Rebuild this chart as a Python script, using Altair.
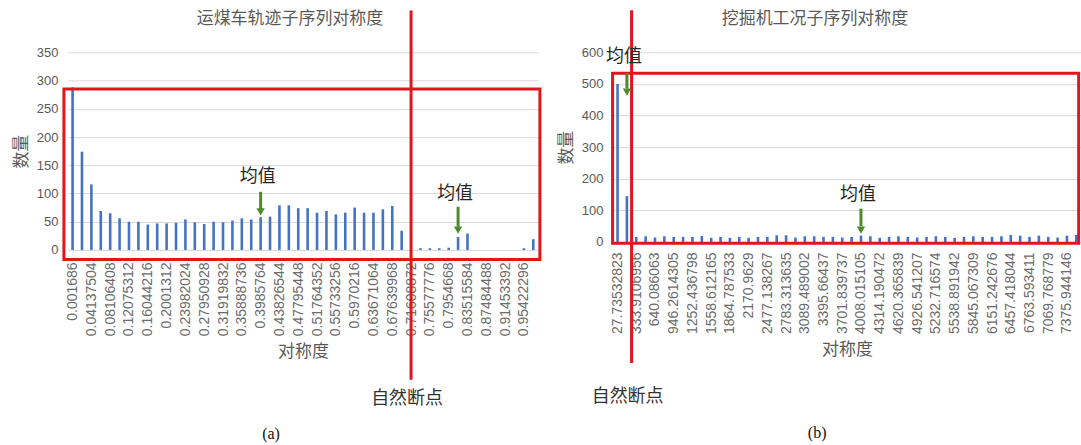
import json

import altair as alt
import pandas as pd

CJK = "Noto Sans CJK SC"
BLUE = "#4472c4"
RED = "#e3141c"
GREEN = "#4e8a2e"
GRAY = "#595959"

# 运煤车轨迹子序列对称度: 50 bins, tick label on every second bin
truck_ticks = ["0.001686", "0.04137504", "0.08106408", "0.12075312", "0.16044216",
               "0.2001312", "0.23982024", "0.27950928", "0.31919832", "0.35888736",
               "0.3985764", "0.43826544", "0.47795448", "0.51764352", "0.55733256",
               "0.5970216", "0.63671064", "0.67639968", "0.71608872", "0.75577776",
               "0.7954668", "0.83515584", "0.87484488", "0.91453392", "0.95422296"]
truck_counts = [288, 174, 116, 69, 65, 56, 50, 50, 45, 47,
                47, 48, 54, 49, 46, 50, 49, 52, 56, 54,
                58, 59, 79, 79, 74, 74, 66, 69, 63, 66,
                75, 66, 66, 72, 78, 34, 0, 3, 3, 3,
                4, 23, 29, 0, 0, 0, 0, 0, 3, 19]

# 挖掘机工况子序列对称度: 50 bins, tick label on every second bin
excavator_ticks = ["27.73532823", "333.9106956", "640.086063", "946.2614305", "1252.436798",
                   "1558.612165", "1864.787533", "2170.9629", "2477.138267", "2783.313635",
                   "3089.489002", "3395.66437", "3701.839737", "4008.015105", "4314.190472",
                   "4620.365839", "4926.541207", "5232.716574", "5538.891942", "5845.067309",
                   "6151.242676", "6457.418044", "6763.593411", "7069.768779", "7375.944146"]
excavator_counts = [500, 145, 16, 18, 14, 18, 16, 16, 16, 19,
                    13, 16, 13, 16, 13, 16, 16, 21, 21, 14,
                    18, 18, 16, 16, 14, 16, 20, 18, 13, 16,
                    18, 16, 14, 16, 18, 16, 13, 16, 18, 16,
                    16, 18, 22, 20, 16, 20, 16, 14, 20, 22]

# annotation anchors, in bin units (x) and count units (y)
truck_frame = {"x0": -0.42, "x1": 50.2, "y0": -17, "y1": 285}
truck_break = {"x": 36.5, "y0": -230, "y1": 424}
truck_means = [  # bin centre, label y, shaft top, shaft bottom, head y
    {"x": 20.5, "ly": 130, "s0": 103, "s1": 72, "hy": 67.5},
    {"x": 41.5, "ly": 99, "s0": 76.5, "s1": 41, "hy": 35},
]
excavator_frame = {"x0": -0.03, "x1": 49.75, "y0": -4, "y1": 534}
excavator_break = {"x": 2.0, "y0": -383, "y1": 733}
excavator_means = [
    {"x": 1.5, "ly": 586, "s0": 535, "s1": 485, "hy": 474},
    {"x": 26.5, "ly": 149, "s0": 105.5, "s1": 49.6, "hy": 37.6},
]


def histogram_panel(counts, ticks, title, title_dx, y_max, y_step, width, height,
                    label_pad, frame, brk, means, break_label_y,
                    caption, caption_x, caption_y, caption_dx):
    n = len(counts)
    bins = pd.DataFrame({"pos": [i + 0.5 for i in range(n)], "count": counts})
    xs = alt.Scale(domain=[0, n], nice=False, zero=False, padding=0)
    ys = alt.Scale(domain=[0, y_max], nice=False, padding=0)

    x_axis = alt.Axis(
        values=[i + 0.5 for i in range(0, n, 2)],
        labelExpr=json.dumps(ticks) + "[floor(datum.value / 2)]",
        labelAngle=-90, labelFont="Liberation Sans", labelFontSize=14,
        labelColor="#6b6b6b", labelPadding=label_pad, labelOverlap=False, labelFlush=False,
        ticks=False, domain=False, grid=False,
        titleFont=CJK, titleFontSize=17, titleFontWeight="normal", titleColor=GRAY,
        titlePadding=8,
    )
    y_axis = alt.Axis(
        values=list(range(0, y_max + 1, y_step)),
        labelFont="Liberation Sans", labelFontSize=13, labelColor=GRAY, labelPadding=10,
        ticks=False, domain=False, grid=True, gridColor="#d9d9d9",
        titleFont=CJK, titleFontSize=17, titleFontWeight="normal", titleColor=GRAY,
        titlePadding=6,
    )

    def X(field):
        return alt.X(field, scale=xs, axis=x_axis, title="对称度")

    def Y(field):
        return alt.Y(field, scale=ys, axis=y_axis, title="数量")

    bars = alt.Chart(bins).mark_bar(size=2.6, color=BLUE).encode(
        x=X("pos:Q"), y=Y("count:Q"),
    )

    box = alt.Chart(pd.DataFrame([frame])).mark_rect(
        filled=False, stroke=RED, strokeWidth=3
    ).encode(x=X("x0:Q"), x2="x1:Q", y=Y("y0:Q"), y2="y1:Q")

    break_line = alt.Chart(pd.DataFrame([brk])).mark_rule(color=RED, strokeWidth=3).encode(
        x=X("x:Q"), y=Y("y0:Q"), y2="y1:Q",
    )
    break_text = alt.Chart(
        pd.DataFrame([{"x": brk["x"], "y": break_label_y, "t": "自然断点"}])
    ).mark_text(font=CJK, fontSize=18, color="#333333", dx=-4).encode(
        x=X("x:Q"), y=Y("y:Q"), text="t:N",
    )

    mean_df = pd.DataFrame(means).assign(t="均值")
    shafts = alt.Chart(mean_df).mark_rule(color=GREEN, strokeWidth=3).encode(
        x=X("x:Q"), y=Y("s0:Q"), y2="s1:Q",
    )
    heads = alt.Chart(mean_df).mark_point(
        shape="triangle-down", filled=True, size=70, color=GREEN, opacity=1
    ).encode(x=X("x:Q"), y=Y("hy:Q"))
    mean_text = alt.Chart(mean_df).mark_text(
        font=CJK, fontSize=18, color="#262626", dx=-3
    ).encode(x=X("x:Q"), y=Y("ly:Q"), text="t:N")

    cap = alt.Chart(
        pd.DataFrame([{"x": caption_x, "y": caption_y, "t": caption}])
    ).mark_text(font="Liberation Serif", fontSize=16, color="#111111", dx=caption_dx).encode(
        x=X("x:Q"), y=Y("y:Q"), text="t:N",
    )

    # the title sits above the group's full extent, which the break line pushes
    # 42px over the plot; a negative offset brings it back down beside that line
    return alt.layer(bars, box, break_line, break_text, shafts, heads, mean_text, cap).properties(
        width=width, height=height,
        title=alt.Title(title, font=CJK, fontSize=17, fontWeight="normal", color=GRAY,
                        anchor="middle", frame="group", dx=title_dx, offset=-19),
    )


panel_a = histogram_panel(truck_counts, truck_ticks, "运煤车轨迹子序列对称度", -13, 350, 50, 471, 198,
                          12, truck_frame, truck_break, truck_means, -264, "(a)", 21.5, -326, 1)
panel_b = histogram_panel(excavator_counts, excavator_ticks, "挖掘机工况子序列对称度", -32, 600, 100, 469, 190,
                          10, excavator_frame, excavator_break, excavator_means, -490, "(b)", 21.5, -604, 3)

chart = alt.hconcat(panel_a, panel_b, spacing=15).properties(
    padding={"left": 12, "top": 8, "right": 0, "bottom": 4},
    background="white",
).configure_view(stroke=None)

chart.save("out.html", embed_options={"renderer": "svg", "actions": False})
